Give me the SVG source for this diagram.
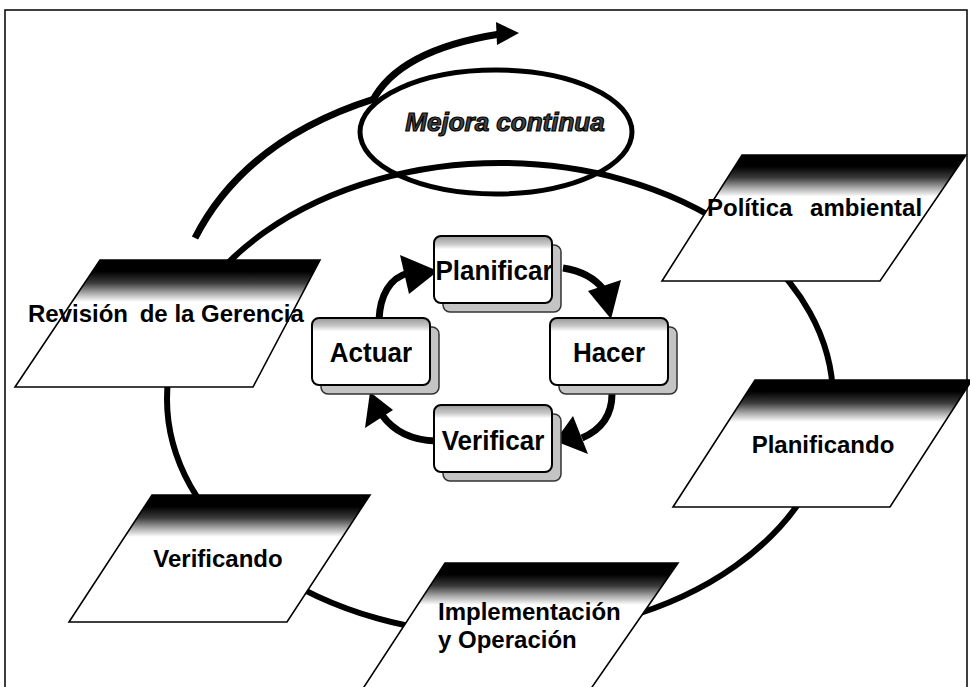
<svg xmlns="http://www.w3.org/2000/svg" width="970" height="687" viewBox="0 0 970 687">
<defs>
<style>
.frame{fill:none;stroke:#000;stroke-width:1.5}
.cyc{fill:none;stroke:#000;stroke-width:6}
.para{stroke:#000;stroke-width:1.6;fill:url(#band)}
.lbl{font-family:"Liberation Sans",Arial,sans-serif;font-weight:bold;font-size:24px;fill:#000}
.ilbl{font-family:"Liberation Sans",Arial,sans-serif;font-weight:bold;font-size:26px;fill:#000;text-anchor:middle}
.back{fill:#c4c4c4;stroke:#333;stroke-width:1.5}
.front{fill:url(#strip);stroke:#000;stroke-width:2}
.shaft{fill:none;stroke:#000;stroke-width:7}
.head{fill:#000}
.mej{font-family:"Liberation Sans",Arial,sans-serif;font-weight:bold;font-style:italic;font-size:26px;fill:#444;stroke:#000;stroke-width:1.2;text-anchor:middle}
</style>
<linearGradient id="band" x1="0" y1="0" x2="0" y2="1">
<stop offset="0" stop-color="#000"/>
<stop offset="0.09" stop-color="#000"/>
<stop offset="0.18" stop-color="#3a3a3a"/>
<stop offset="0.26" stop-color="#a8a8a8"/>
<stop offset="0.33" stop-color="#fff"/>
<stop offset="1" stop-color="#fff"/>
</linearGradient>
<linearGradient id="strip" x1="0" y1="0" x2="0" y2="1">
<stop offset="0" stop-color="#999"/>
<stop offset="0.12" stop-color="#c8c8c8"/>
<stop offset="0.2" stop-color="#fff"/>
<stop offset="1" stop-color="#fff"/>
</linearGradient>
</defs>
<rect x="0" y="0" width="970" height="687" fill="#fff"/>
<rect class="frame" x="5" y="10" width="962" height="700"/>

<g id="connectors">
<ellipse class="cyc" cx="500" cy="399" rx="333" ry="236"/>
<path class="shaft" d="M195,238 Q245,140 374,99" stroke-width="6.5"/>
<path class="shaft" d="M372,102 Q398,50 500,34" stroke-width="6.5"/>
<polygon class="head" points="496,22 519,33 497,45"/>
<path class="shaft" d="M379,320 C380,295 390,278 408,273"/>
<polygon class="head" points="400,255 438,271 409,294"/>
<path class="shaft" d="M563,268 Q590,272 604,290"/>
<polygon class="head" points="588,291 621,280 611,319"/>
<path class="shaft" d="M612,394 Q612,425 582,438"/>
<polygon class="head" points="573,416 555,441 588,454"/>
<path class="shaft" d="M436,441 Q400,440 382,415"/>
<polygon class="head" points="365,428 370,392 393,410"/>
</g>

<g id="mejora">
<ellipse cx="496" cy="132" rx="136" ry="62" fill="none" stroke="#000" stroke-width="5"/>
<text class="mej" x="505" y="131">Mejora continua</text>
</g>

<g id="politica">
<polygon class="para" points="742,155 966,155 880,281 662,281"/>
<text class="lbl" x="707" y="216" word-spacing="11">Política ambiental</text>
</g>

<g id="planificando">
<polygon class="para" points="755,380 972,380 890,507 673,507"/>
<text class="lbl" x="823" y="453" text-anchor="middle">Planificando</text>
</g>

<g id="implementacion">
<polygon class="para" points="445,563 678,563 590,690 362,690"/>
<text class="lbl" x="438" y="620">Implementación</text>
<text class="lbl" x="438" y="648">y Operación</text>
</g>

<g id="verificando">
<polygon class="para" points="152,495 370,495 287,622 69,622"/>
<text class="lbl" x="218" y="567" text-anchor="middle">Verificando</text>
</g>

<g id="revision">
<polygon class="para" points="100,260 320,260 253,387 15,387"/>
<text class="lbl" x="28" y="322">Revisión<tspan dx="5"> de la Gerencia</tspan></text>
</g>

<g id="planificar">
<rect class="back" x="443" y="245" width="118" height="67" rx="7"/>
<rect class="front" x="434" y="236" width="118" height="67" rx="7"/>
<text class="ilbl" transform="translate(494,280) scale(1,1.08)">Planificar</text>
</g>

<g id="hacer">
<rect class="back" x="559" y="327" width="118" height="67" rx="7"/>
<rect class="front" x="550" y="318" width="118" height="67" rx="7"/>
<text class="ilbl" transform="translate(609,362) scale(1,1.08)">Hacer</text>
</g>

<g id="verificar">
<rect class="back" x="443" y="414" width="118" height="67" rx="7"/>
<rect class="front" x="434" y="405" width="118" height="67" rx="7"/>
<text class="ilbl" transform="translate(493,450) scale(1,1.08)">Verificar</text>
</g>

<g id="actuar">
<rect class="back" x="321" y="327" width="118" height="67" rx="7"/>
<rect class="front" x="312" y="318" width="118" height="67" rx="7"/>
<text class="ilbl" transform="translate(371,362) scale(1,1.08)">Actuar</text>
</g>
</svg>
